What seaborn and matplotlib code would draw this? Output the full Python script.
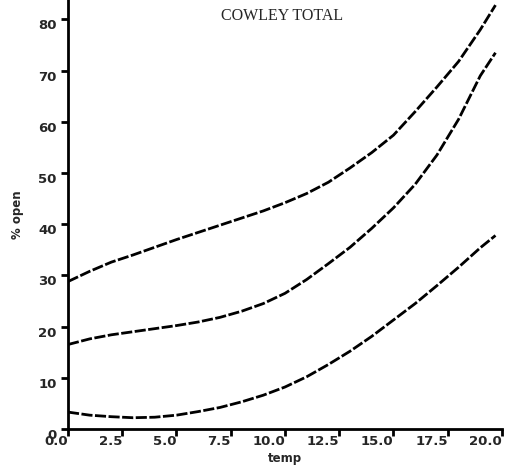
import matplotlib
matplotlib.use("Agg")
import matplotlib.pyplot as plt
import seaborn as sns
import pandas as pd

# Fitted % open against temperature: upper band, central fit, lower band
temp = [0, 1, 2, 3, 4, 5, 6, 7, 8, 9, 10, 11, 12, 13, 14, 15, 16, 17, 18, 19, 19.7]
upper = [28.8, 30.8, 32.6, 34.0, 35.5, 37.0, 38.4, 39.8, 41.2, 42.6, 44.2,
         46.0, 48.2, 51.0, 54.0, 57.4, 62.0, 66.8, 71.8, 78.0, 82.8]
middle = [16.5, 17.6, 18.4, 19.0, 19.6, 20.2, 20.9, 21.8, 23.0, 24.5, 26.5,
          29.2, 32.3, 35.5, 39.2, 43.2, 47.8, 53.5, 60.5, 69.0, 73.5]
lower = [3.3, 2.7, 2.4, 2.2, 2.3, 2.7, 3.4, 4.2, 5.3, 6.6, 8.2,
         10.2, 12.6, 15.2, 18.1, 21.3, 24.5, 28.0, 31.6, 35.4, 37.8]

x_ticks = [0, 2.5, 5, 7.5, 10, 12.5, 15, 17.5, 20]
x_tick_labels = ["0.0", "2.5", "5.0", "7.5", "10.0", "12.5", "15.0", "17.5", "20.0"]
y_ticks = [0, 10, 20, 30, 40, 50, 60, 70, 80]
y_tick_labels = ["0", "10", "20", "30", "40", "50", "60", "70", "80"]

df = pd.DataFrame({
    "temp": temp * 3,
    "pct": upper + middle + lower,
    "curve": ["upper"] * len(temp) + ["middle"] * len(temp) + ["lower"] * len(temp),
})

sns.set_style("ticks")
plt.rcParams["font.family"] = ["DejaVu Sans"]

fig = plt.figure(figsize=(5.10, 4.71), dpi=100)
ax = fig.add_axes([0.1333, 0.0892, 0.8510, 0.9108])

sns.lineplot(data=df, x="temp", y="pct", units="curve", estimator=None,
             color="black", linewidth=2.0, ax=ax, legend=False)
for line in ax.get_lines():
    line.set_dashes((4, 0.9))
    line.set_solid_capstyle("butt")

ax.set_xlim(0, 20)
ax.set_ylim(0, 83.8)
ax.set_xticks(x_ticks)
ax.set_xticklabels(x_tick_labels, fontsize=9.5, fontweight="bold", ha="right")
ax.set_yticks(y_ticks)
ax.set_yticklabels(y_tick_labels, fontsize=9.5, fontweight="bold", va="top")
ax.tick_params(direction="out", length=5, width=2, color="black")
ax.tick_params(axis="x", pad=-1)
ax.tick_params(axis="y", pad=3)

for side in ("top", "right"):
    ax.spines[side].set_visible(False)
for side in ("left", "bottom"):
    ax.spines[side].set_linewidth(2)
    ax.spines[side].set_color("black")

ax.set_xlabel("temp", fontsize=8.5, fontweight="bold", labelpad=3)
ax.set_ylabel("% open", fontsize=8.5, fontweight="bold", labelpad=10)

ax.text(0.494, 0.963, "COWLEY TOTAL", transform=ax.transAxes,
        ha="center", va="center", fontsize=11.5, family="Liberation Serif")

fig.savefig("out.png", dpi=100, facecolor="white")
